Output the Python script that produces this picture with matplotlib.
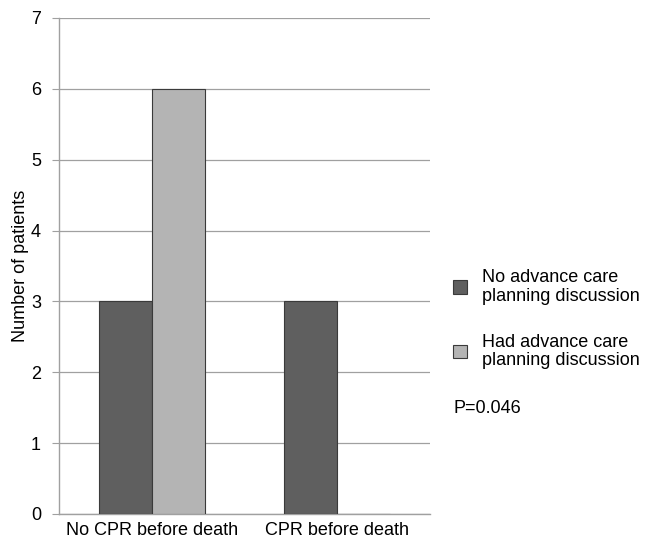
import matplotlib
matplotlib.use("Agg")
import matplotlib.pyplot as plt
import numpy as np
from matplotlib.patches import Patch

categories = ["No CPR before death", "CPR before death"]
series_names = ["No advance care\nplanning discussion", "Had advance care\nplanning discussion"]
no_acp = [3, 3]
had_acp = [6, 0]
y_ticks = [0, 1, 2, 3, 4, 5, 6, 7]
p_text = "P=0.046"

plt.rcParams['font.family'] = ['Liberation Sans', 'DejaVu Sans']

fig = plt.figure(figsize=(6.49, 5.42), dpi=100)
ax = fig.add_axes([0.0909, 0.0517, 0.5717, 0.9151])

x = np.arange(len(categories))
w = 0.286
colors = ["#5f5f5f", "#b4b4b4"]
edge = "#3a3a3a"
ax.bar(x - w / 2, no_acp, w, color=colors[0], edgecolor=edge, linewidth=0.8, zorder=3)
ax.bar(x + w / 2, had_acp, w, color=colors[1], edgecolor=edge, linewidth=0.8, zorder=3)

ax.set_xlim(-0.5, 1.5)
ax.set_ylim(0, 7)
ax.set_yticks(y_ticks)
ax.set_yticklabels([str(t) for t in y_ticks], fontsize=13)
ax.set_xticks(x)
ax.set_xticklabels(categories, fontsize=13)
ax.tick_params(axis='x', length=0, pad=6)
ax.tick_params(axis='y', length=5, color="#a0a0a0", pad=8)
ax.yaxis.grid(True, color="#a0a0a0", linewidth=0.9, zorder=0)
ax.set_axisbelow(True)
for s in ["top", "right"]:
    ax.spines[s].set_visible(False)
for s in ["left", "bottom"]:
    ax.spines[s].set_color("#a0a0a0")
    ax.spines[s].set_linewidth(1.0)
ax.set_ylabel("Number of patients", fontsize=13, labelpad=1)

handles = [Patch(facecolor=colors[0], edgecolor=edge, linewidth=0.8),
           Patch(facecolor=colors[1], edgecolor=edge, linewidth=0.8)]
leg = fig.legend(handles, series_names, loc="upper left", bbox_to_anchor=(0.698, 0.503),
                 frameon=False, fontsize=13, handlelength=0.78, handleheight=0.78,
                 handletextpad=0.83, labelspacing=1.6, borderpad=0, borderaxespad=0)
for t in leg.get_texts():
    t.set_linespacing(1.1)
fig.text(0.698, 0.247, p_text, fontsize=13, ha="left", va="center")

fig.savefig("out.png", dpi=100)
